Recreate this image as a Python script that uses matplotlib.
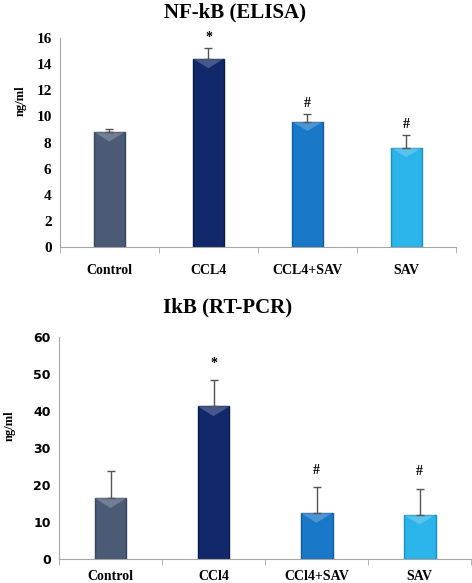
import matplotlib.pyplot as plt
from matplotlib.patches import Polygon

# data
groups_top = ['Control', 'CCL4', 'CCL4+SAV', 'SAV']
nfkb = [8.8, 14.4, 9.6, 7.6]
nfkb_err = [0.2, 0.8, 0.6, 1.0]
nfkb_marks = ['', '*', '#', '#']

groups_bottom = ['Control', 'CCl4', 'CCl4+SAV', 'SAV']
ikb = [16.5, 41.3, 12.5, 12.0]
ikb_err = [7.2, 7.0, 7.0, 7.0]
ikb_marks = ['', '*', '#', '#']

colors = ['#4b5b76', '#11296b', '#1a78c8', '#2ab4ea']
edges = ['#36445c', '#0a1c4e', '#135c9c', '#1a90c0']

serif = 'Liberation Serif'

fig = plt.figure(figsize=(4.72, 5.83), dpi=100)
ax1 = fig.add_axes([0.127, 0.576, 0.839, 0.359])
ax2 = fig.add_axes([0.125, 0.041, 0.873, 0.381])


def draw(ax, groups, vals, errs, marks, ymax, step, tickfont, tsize, mark_off):
    x = range(len(groups))
    bars = ax.bar(x, vals, width=0.31, color=colors, edgecolor=edges, linewidth=1.0,
                  yerr=[[0] * len(errs), errs],
                  error_kw=dict(ecolor='#555555', elinewidth=1.0, capsize=3, capthick=1.0))
    # light bevel at the top of each bar
    tri_h = ymax * 0.045
    for b in bars:
        x0, w, top = b.get_x(), b.get_width(), b.get_height()
        ax.add_patch(Polygon([(x0, top), (x0 + w, top), (x0 + w / 2, top - tri_h)],
                             closed=True, facecolor='white', alpha=0.22, edgecolor='none'))
    for i, (v, e, m) in enumerate(zip(vals, errs, marks)):
        if m:
            ax.text(i, v + e + mark_off, m, ha='center', va='bottom', fontfamily=serif,
                    fontweight='bold', fontsize=10)
    ax.set_xlim(-0.5, len(groups) - 0.5)
    ax.set_ylim(0, ymax)
    ax.set_yticks(range(0, ymax + 1, step))
    ax.set_xticks(list(x))
    ax.set_xticklabels(groups, fontfamily=serif, fontweight='bold', fontsize=10)
    ax.set_xticks([i + 0.5 for i in range(-1, len(groups))], minor=True)
    ax.tick_params(axis='x', which='major', length=0, pad=12)
    ax.tick_params(axis='x', which='minor', length=4, color='#a6a6a6', direction='out')
    ax.tick_params(axis='y', length=0, pad=6)
    for lab in ax.get_yticklabels():
        lab.set_fontfamily(tickfont)
        lab.set_fontweight('bold')
        lab.set_fontsize(tsize)
    for s in ['top', 'right']:
        ax.spines[s].set_visible(False)
    ax.spines['left'].set_color('#a6a6a6')
    ax.spines['bottom'].set_color('#a6a6a6')
    ax.set_ylabel('ng/ml', fontfamily=serif, fontweight='bold', fontsize=9)


draw(ax1, groups_top, nfkb, nfkb_err, nfkb_marks, 16, 2, serif, 11, 0.3)
fig.text(0.498, 0.978, 'NF-kB (ELISA)', ha='center', va='center', fontfamily=serif,
         fontweight='bold', fontsize=15)
ax1.yaxis.set_label_coords(-0.085, 0.7)

draw(ax2, groups_bottom, ikb, ikb_err, ikb_marks, 60, 10, 'DejaVu Sans', 9, 2.8)
fig.text(0.483, 0.473, 'IkB (RT-PCR)', ha='center', va='center', fontfamily=serif,
         fontweight='bold', fontsize=15)
ax2.tick_params(axis='x', which='major', pad=8)
ax2.yaxis.set_label_coords(-0.105, 0.6)

fig.savefig('out.png', dpi=100)
